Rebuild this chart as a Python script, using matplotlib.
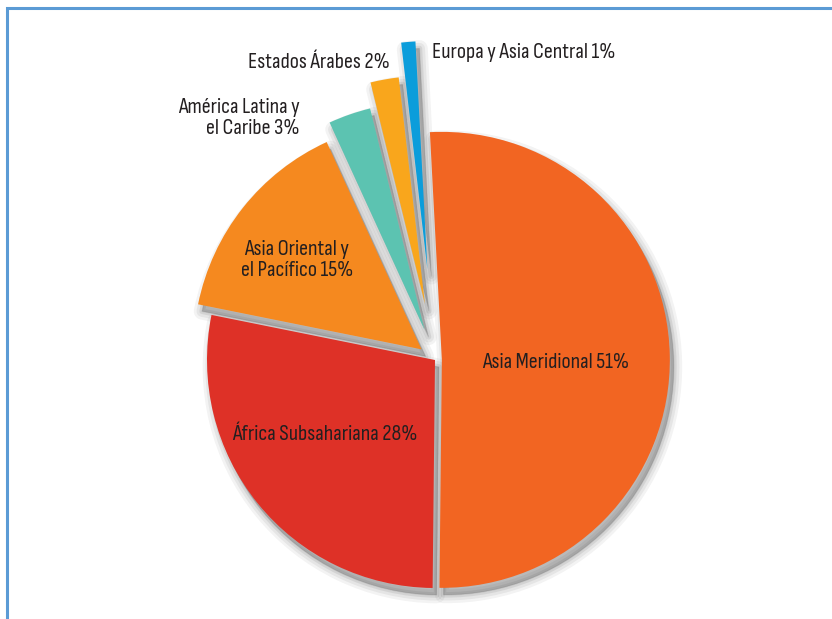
import matplotlib
matplotlib.use('Agg')
import matplotlib.pyplot as plt
from matplotlib.patches import Wedge, Rectangle

# ---- data ----
labels = ["Asia Meridional 51%", "África Subsahariana 28%",
          "Asia Oriental y\nel Pacífico 15%", "América Latina y\nel Caribe 3%",
          "Estados Árabes 2%", "Europa y Asia Central 1%"]
values = [51, 28, 15, 3, 2, 1]

# ---- style ----
colors = ["#F26522", "#DE3127", "#F5891F", "#5CC3B1", "#F9A61C", "#0B9DDB"]
explode_frac = [0.03, 0.0, 0.075, 0.14, 0.25, 0.40]

W, H = 832, 619
fig = plt.figure(figsize=(W / 100, H / 100), dpi=100)
ax = fig.add_axes([0, 0, 1, 1])
cx, cy, R = 435, H - 360, 228

wedges, _ = ax.pie(values, colors=colors, startangle=93, counterclock=False,
                   radius=R, center=(cx, cy),
                   explode=[e * R for e in explode_frac],
                   wedgeprops=dict(linewidth=0, zorder=3))

# soft shadow
for w in wedges:
    c = w.center
    for lw, a in [(12, 0.07), (8, 0.09), (4, 0.12), (1, 0.14)]:
        s = Wedge((c[0] + 4, c[1] - 7), w.r, w.theta1, w.theta2,
                  facecolor=(0.35, 0.35, 0.35), edgecolor=(0.35, 0.35, 0.35),
                  linewidth=lw, alpha=a, joinstyle='round', zorder=1)
        ax.add_patch(s)

ax.set_xlim(0, W)
ax.set_ylim(0, H)
ax.set_aspect('auto')
ax.axis('off')

# border
fig.patches.append(Rectangle((7, -10), W + 20, H - 8 + 10, transform=None,
                             fill=False, edgecolor="#5B9BD5", linewidth=2.2))

fam = ['Sofia Sans Condensed', 'Encode Sans Condensed', 'DejaVu Sans']
tc = '#231F20'
fs = 16
pos = [(556, 362, 'center', 'center'),
       (325, 435, 'center', 'center'),
       (297, 260, 'center', 'center'),
       (300, 118, 'right', 'center'),
       (390, 62, 'right', 'center'),
       (432, 52, 'left', 'center')]
for lab, (x, y, ha, va) in zip(labels, pos):
    ax.text(x, H - y, lab, ha=ha, va=va, fontsize=fs, family=fam, color=tc,
            linespacing=1.1, zorder=5)

fig.savefig('out.png', dpi=100)
